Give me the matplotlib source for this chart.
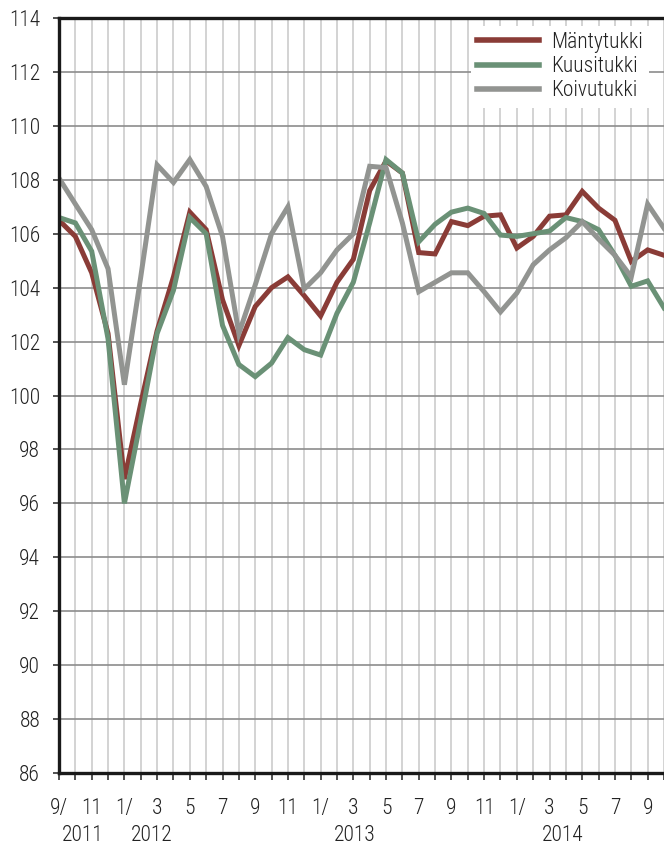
import numpy as np
import matplotlib
matplotlib.use('Agg')
import matplotlib.pyplot as plt
from matplotlib.transforms import blended_transform_factory

plt.rcParams['font.family'] = ['Roboto Condensed', 'DejaVu Sans']
plt.rcParams['font.weight'] = 'light'

# kuukaudet 9/2011 - 10/2014
month_labels = ['9/', '', '11', '', '1/', '', '3', '', '5', '', '7', '', '9', '', '11', '',
                '1/', '', '3', '', '5', '', '7', '', '9', '', '11', '',
                '1/', '', '3', '', '5', '', '7', '', '9', '']
years = ['2011', '2012', '2013', '2014']
year_pos = [1.45, 5.7, 18.1, 30.8]

mantytukki = [106.5, 105.9, 104.55, 102.3, 96.9, 99.7, 102.4, 104.4, 106.8, 106.15,
              103.55, 101.85, 103.3, 104.0, 104.4, 103.7, 102.95, 104.2, 105.05, 107.6,
              108.7, 108.25, 105.3, 105.25, 106.45, 106.3, 106.65, 106.7, 105.47, 105.9,
              106.65, 106.7, 107.57, 106.95, 106.5, 104.97, 105.4, 105.2]
kuusitukki = [106.6, 106.4, 105.35, 102.1, 96.0, 99.1, 102.3, 103.9, 106.6, 106.0,
              102.6, 101.15, 100.7, 101.2, 102.15, 101.7, 101.5, 103.05, 104.2, 106.4,
              108.75, 108.25, 105.7, 106.35, 106.8, 106.95, 106.75, 105.95, 105.9, 106.0,
              106.1, 106.6, 106.45, 106.15, 105.2, 104.05, 104.25, 103.25]
koivutukki = [108.06, 107.1, 106.15, 104.7, 100.4, 104.4, 108.55, 107.9, 108.75, 107.75,
              105.9, 102.3, 104.1, 106.0, 107.0, 103.95, 104.55, 105.4, 106.0, 108.5,
              108.45, 106.4, 103.85, 104.2, 104.55, 104.55, 103.85, 103.1, 103.8, 104.85,
              105.4, 105.85, 106.45, 105.8, 105.2, 104.4, 107.1, 106.2]

x = np.arange(len(month_labels))

fig = plt.figure(figsize=(6.64, 8.48), dpi=100)
ax = fig.add_axes([59/664, 75/848, 605/664, 755/848])

ax.plot(x, mantytukki, color='#8a3c37', lw=3.6, label='Mäntytukki', solid_joinstyle='miter')
ax.plot(x, kuusitukki, color='#6a9176', lw=3.6, label='Kuusitukki', solid_joinstyle='miter')
ax.plot(x, koivutukki, color='#929491', lw=3.6, label='Koivutukki', solid_joinstyle='miter')

ax.set_xlim(0, len(x) - 1)
ax.set_ylim(86, 114)
ax.set_yticks(np.arange(86, 115, 2))
ax.set_xticks(x)
ax.set_xticklabels(month_labels)

# ruudukko
for xi in x:
    ax.axvline(xi, color='#cccccc', lw=1.2, zorder=0)
for yv in np.arange(88, 114, 2):
    ax.axhline(yv, color='#8c8c8c', lw=1.2, zorder=0)

for s in ['left', 'bottom', 'top']:
    ax.spines[s].set_linewidth(2.4)
    ax.spines[s].set_color('#1a1a1a')
ax.spines['right'].set_visible(False)

ax.tick_params(axis='y', length=4.5, width=1.1, pad=9, labelsize=15.5, colors='#222222')
ax.tick_params(axis='x', length=5, width=1.1, pad=13, labelsize=15.5, colors='#222222')

trans = blended_transform_factory(ax.transData, ax.transAxes)
for yr, p in zip(years, year_pos):
    ax.text(p, -0.083, yr, transform=trans, ha='center', va='center', fontsize=15.5, color='#222222')

leg = ax.legend(loc='upper right', bbox_to_anchor=(0.975, 0.99), fontsize=15.5,
                handlelength=2.85, handletextpad=0.55, labelspacing=0.15,
                borderpad=0.3, borderaxespad=0, frameon=True, fancybox=False)
leg.get_frame().set_edgecolor('none')
leg.get_frame().set_facecolor('white')
leg.get_frame().set_alpha(1)
for line in leg.get_lines():
    line.set_linewidth(4)
for t in leg.get_texts():
    t.set_color('#222222')

plt.savefig('out.png', dpi=100)
